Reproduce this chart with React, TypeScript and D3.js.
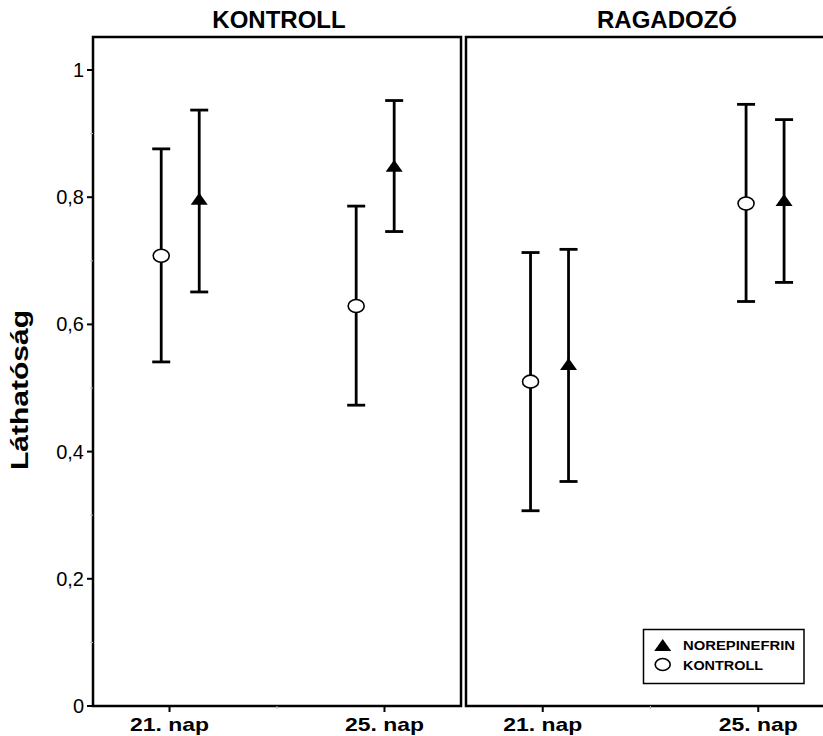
import React from "react";
import * as d3 from "d3";

// Panels (treatment groups) and measurement days
const panels = ["KONTROLL", "RAGADOZÓ"];
const days = ["21. nap", "25. nap"];

// Mean visibility and error bar limits, [panel][day]
const kontrollMean = [[0.708, 0.629], [0.51, 0.79]];
const kontrollLow = [[0.541, 0.473], [0.307, 0.636]];
const kontrollHigh = [[0.876, 0.786], [0.713, 0.946]];

const noreMean = [[0.796, 0.848], [0.536, 0.794]];
const noreLow = [[0.651, 0.746], [0.353, 0.666]];
const noreHigh = [[0.937, 0.952], [0.718, 0.922]];

const yTicks = [0, 0.2, 0.4, 0.6, 0.8, 1];
const yTickLabels = ["0", "0,2", "0,4", "0,6", "0,8", "1"];
const yMinorTicks = [0.1, 0.3, 0.5, 0.7, 0.9];

const legendItems = ["NOREPINEFRIN", "KONTROLL"];

// Layout
const W = 823;
const H = 736;
const top = 37;
const bottom = 706;
const panelRanges: [number, number][] = [
  [93, 461],
  [466, 835],
];
const titleX = [279, 667];
// horizontal shift of each day's pair from its tick, and half distance between the two bars
const pairShift = [[10.7, -9.3], [6.8, 6.8]];
const halfGap = 19;
const capW = 9;
const legendTextLen = [112, 80];

const font = "'Liberation Sans', Arial, Helvetica, sans-serif";

const y = d3.scaleLinear().domain([0, 1]).range([bottom, top + 33]);

function ErrorBar({ x, lo, hi }: { x: number; lo: number; hi: number }) {
  return (
    <g stroke="#000" strokeWidth={2.8} fill="none">
      <line x1={x} x2={x} y1={y(lo)} y2={y(hi)} />
      <line x1={x - capW} x2={x + capW} y1={y(hi)} y2={y(hi)} />
      <line x1={x - capW} x2={x + capW} y1={y(lo)} y2={y(lo)} />
    </g>
  );
}

const triPath = (cx: number, cy: number, w = 17, h = 12) =>
  `M${cx},${cy - h / 2 - 1}L${cx + w / 2},${cy + h / 2 - 1}L${cx - w / 2},${cy + h / 2 - 1}Z`;

export default function App() {
  const yAxisX = panelRanges[0][0];
  return (
    <svg
      width={W}
      height={H}
      style={{ position: "absolute", left: 0, top: 0, background: "#fff" }}
      fontFamily={font}
    >
      <rect x={0} y={0} width={W} height={H} fill="#fff" />

      {panels.map((p, pi) => {
        const [x0, x1] = panelRanges[pi];
        const x = d3.scalePoint<string>().domain(days).range([x0, x1]).padding(0.356);
        const mid = ((x(days[0]) as number) + (x(days[1]) as number)) / 2;
        return (
          <g key={p}>
            <rect
              x={x0}
              y={top}
              width={x1 - x0}
              height={bottom - top}
              fill="none"
              stroke="#000"
              strokeWidth={2.5}
            />
            <text
              x={titleX[pi]}
              y={28}
              textAnchor="middle"
              fontSize={24}
              fontWeight="bold"
            >
              {p}
            </text>
            {/* x ticks */}
            <line x1={mid} x2={mid} y1={bottom} y2={bottom + 3} stroke="#bbb" strokeWidth={1} />
            {days.map((d) => (
              <g key={d}>
                <line
                  x1={x(d)}
                  x2={x(d)}
                  y1={bottom}
                  y2={bottom + 6}
                  stroke="#000"
                  strokeWidth={2}
                />
                <text
                  x={x(d)}
                  y={731}
                  textAnchor="middle"
                  fontSize={19}
                  fontWeight="bold"
                  textLength={79}
                  lengthAdjust="spacingAndGlyphs"
                >
                  {d}
                </text>
              </g>
            ))}
            {/* error bars and means */}
            {days.map((d, di) => {
              const c = (x(d) as number) + pairShift[pi][di];
              const xk = c - halfGap;
              const xn = c + halfGap;
              return (
                <g key={d}>
                  <ErrorBar x={xk} lo={kontrollLow[pi][di]} hi={kontrollHigh[pi][di]} />
                  <ErrorBar x={xn} lo={noreLow[pi][di]} hi={noreHigh[pi][di]} />
                  <ellipse
                    cx={xk}
                    cy={y(kontrollMean[pi][di])}
                    rx={8}
                    ry={6.5}
                    fill="#fff"
                    stroke="#000"
                    strokeWidth={1.6}
                  />
                  <path d={triPath(xn, y(noreMean[pi][di]))} fill="#000" />
                </g>
              );
            })}
          </g>
        );
      })}

      {/* y axis ticks and labels */}
      {yTicks.map((t, i) => (
        <g key={t}>
          <line
            x1={yAxisX - 6}
            x2={yAxisX}
            y1={y(t)}
            y2={y(t)}
            stroke="#000"
            strokeWidth={2}
          />
          <text
            x={yAxisX - 9}
            y={y(t) + 7}
            textAnchor="end"
            fontSize={20}
          >
            {yTickLabels[i]}
          </text>
        </g>
      ))}
      {yMinorTicks.map((t) => (
        <line
          key={t}
          x1={yAxisX - 3}
          x2={yAxisX}
          y1={y(t)}
          y2={y(t)}
          stroke="#bbb"
          strokeWidth={1}
        />
      ))}

      <text
        transform="translate(28,390) rotate(-90)"
        textAnchor="middle"
        fontSize={24}
        fontWeight="bold"
        textLength={160}
        lengthAdjust="spacingAndGlyphs"
      >
        Láthatóság
      </text>

      {/* legend */}
      <g>
        <rect x={643.5} y={629.5} width={160.5} height={54} fill="#fff" stroke="#000" strokeWidth={1.5} />
        <path d={triPath(662.7, 646, 17, 12)} fill="#000" />
        <ellipse cx={662.7} cy={664.5} rx={7.5} ry={6} fill="#fff" stroke="#000" strokeWidth={1.6} />
        {legendItems.map((l, i) => (
          <text
            key={l}
            x={683}
            y={649.5 + i * 20}
            fontSize={13.5}
            fontWeight="bold"
            textLength={legendTextLen[i]}
            lengthAdjust="spacingAndGlyphs"
          >
            {l}
          </text>
        ))}
      </g>
    </svg>
  );
}
